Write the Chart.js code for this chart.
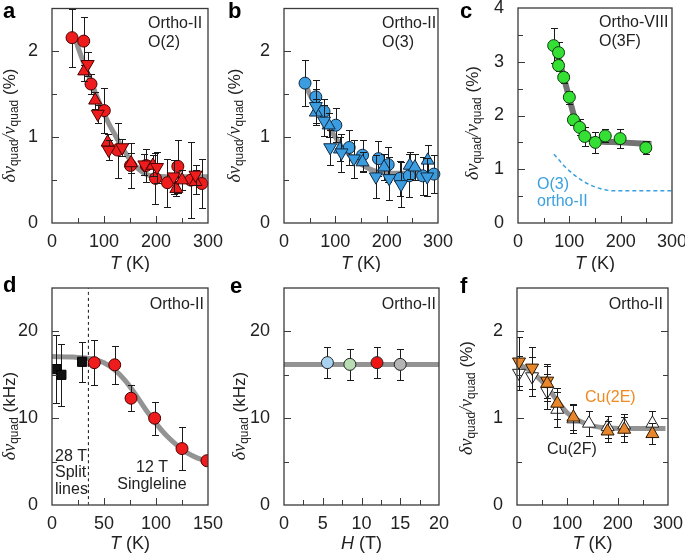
<!DOCTYPE html>
<html>
<head>
<meta charset="utf-8">
<script src="https://cdn.jsdelivr.net/npm/chart.js@4.4.0/dist/chart.umd.min.js"></script>
<style>
  body { margin: 0; background: #fff; width: 685px; height: 553px; position: relative; overflow: hidden; }
  canvas { position: absolute; }
</style>
</head>
<body>
<canvas id="pa" width="230" height="272" style="left:0px;top:0px"></canvas>
<canvas id="pb" width="234" height="272" style="left:226px;top:0px"></canvas>
<canvas id="pc" width="227" height="272" style="left:458px;top:0px"></canvas>
<canvas id="pd" width="230" height="278" style="left:0px;top:275px"></canvas>
<canvas id="pe" width="234" height="278" style="left:226px;top:275px"></canvas>
<canvas id="pf" width="227" height="278" style="left:458px;top:275px"></canvas>
<script>
// ---- a : Ortho-II O(2)
const aCircT = [38.5, 61, 75, 100.6, 126, 151, 181, 199, 222, 242, 267, 288];
const aCircV = [2.16, 2.12, 1.62, 1.31, 0.85, 0.67, 0.67, 0.52, 0.47, 0.66, 0.50, 0.46];
const aCircE = [0.34, 0.28, 0.12, 0.26, 0.32, 0.26, 0.19, 0.30, 0.28, 0.31, 0.44, 0.29];
const aUpT = [62, 83, 107, 152, 194, 239, 250, 276];
const aUpV = [1.77, 1.43, 0.94, 0.70, 0.67, 0.40, 0.50, 0.48];
const aUpE = [0.12, 0.10, 0.10, 0.12, 0.12, 0.09, 0.12, 0.14];
const aDnT = [68.6, 88, 109, 135, 177.6, 202, 234, 276];
const aDnV = [1.85, 1.27, 0.85, 0.88, 0.68, 0.65, 0.54, 0.56];
const aDnE = [0.14, 0.10, 0.12, 0.10, 0.12, 0.18, 0.20, 0.12];
const aFitT = [42, 50, 60, 70, 80, 90, 100, 110, 120, 130, 140, 150, 160, 170, 180, 190, 220, 300];
const aFitV = [2.2, 2.05, 1.88, 1.72, 1.57, 1.42, 1.28, 1.15, 1.04, 0.93, 0.83, 0.74, 0.67, 0.61, 0.57, 0.55, 0.54, 0.54];

// ---- b : Ortho-II O(3)
const bCircT = [41, 62, 78, 101, 127, 153, 184, 203, 226, 244, 270, 292];
const bCircV = [1.63, 1.47, 1.30, 1.14, 0.88, 0.79, 0.75, 0.68, 0.52, 0.55, 0.55, 0.57];
const bCircE = [0.27, 0.20, 0.14, 0.20, 0.20, 0.18, 0.20, 0.20, 0.20, 0.25, 0.22, 0.22];
const bUpT = [62, 87, 109, 153, 195, 245, 255, 280];
const bUpV = [1.29, 1.14, 0.86, 0.71, 0.65, 0.67, 0.65, 0.73];
const bUpE = [0.15, 0.14, 0.14, 0.12, 0.15, 0.16, 0.15, 0.18];
const bDnT = [62, 78, 90, 112, 136, 179, 205, 228, 279];
const bDnV = [1.36, 1.19, 0.88, 0.82, 0.75, 0.54, 0.52, 0.45, 0.54];
const bDnE = [0.20, 0.18, 0.20, 0.22, 0.22, 0.25, 0.25, 0.26, 0.22];
const bFitT = [42, 50, 60, 70, 80, 90, 100, 110, 120, 130, 140, 150, 160, 175, 190, 220, 300];
const bFitV = [1.62, 1.50, 1.39, 1.29, 1.19, 1.09, 1.00, 0.91, 0.84, 0.78, 0.73, 0.69, 0.65, 0.61, 0.59, 0.58, 0.58];

// ---- c : Ortho-VIII O(3F)
const cCircT = [69.5, 79, 79, 89, 100, 108, 120, 130, 150.6, 170, 199, 249];
const cCircV = [3.30, 3.17, 2.93, 2.71, 2.34, 1.92, 1.78, 1.61, 1.50, 1.62, 1.57, 1.40];
const cCircE = [0.32, 0.20, 0.10, 0.10, 0.12, 0.10, 0.15, 0.18, 0.20, 0.12, 0.18, 0.12];
const cFitT = [70, 80, 90, 100, 110, 120, 130, 140, 150, 200, 260];
const cFitV = [3.33, 3.02, 2.68, 2.32, 1.97, 1.74, 1.62, 1.56, 1.53, 1.50, 1.47];
const cRefT = [70, 80, 90, 100, 110, 120, 130, 140, 150, 160, 170, 180, 300];
const cRefV = [1.28, 1.17, 1.06, 0.97, 0.89, 0.82, 0.76, 0.71, 0.67, 0.64, 0.62, 0.60, 0.60];

// ---- d : Ortho-II, field 28 T / 12 T
const dSqT = [4.2, 9, 29];
const dSqV = [15.65, 15.0, 16.5];
const dSqE = [3.9, 3.6, 2.3];
const dCircT = [40.7, 60.3, 76, 98.7, 125, 149];
const dCircV = [16.4, 16.15, 12.3, 10.0, 6.5, 5.1];
const dCircE = [2.6, 2.2, 1.5, 1.9, 2.5, 0];
const dFitT = [0, 20, 40, 50, 60, 70, 80, 90, 100, 110, 120, 130, 140, 150];
const dFitV = [17.1, 17.05, 16.8, 16.4, 15.6, 14.4, 12.8, 11.0, 9.4, 8.0, 6.9, 6.0, 5.4, 5.0];
const dSplitT = [35, 35];
const dSplitV = [0, 25];

// ---- e : Ortho-II vs field
const eH = [5.6, 8.5, 12.0, 15.0];
const eV = [16.4, 16.2, 16.4, 16.2];
const eE = [1.75, 1.75, 1.75, 1.75];
const eColors = ['#a9d1f0', '#b8ddb2', '#ee1414', '#b5b5b5'];
const eFitH = [0, 20];
const eFitV = [16.2, 16.2];

// ---- f : Ortho-II Cu(2E) / Cu(2F)
const fOrDnT = [4, 30, 60];
const fOrDnV = [1.65, 1.58, 1.43];
const fOrDnE = [0.28, 0.24, 0.20];
const fOrUpT = [60, 80, 112, 180, 213, 269];
const fOrUpV = [1.40, 1.17, 1.01, 0.85, 0.87, 0.82];
const fOrUpE = [0.20, 0.18, 0.15, 0.12, 0.14, 0.12];
const fWhDnT = [4, 30, 60];
const fWhDnV = [1.52, 1.48, 1.31];
const fWhDnE = [0.20, 0.22, 0.20];
const fWhUpT = [80, 112, 143, 180, 213, 269];
const fWhUpV = [1.10, 0.99, 0.94, 0.90, 0.92, 0.94];
const fWhUpE = [0.20, 0.16, 0.14, 0.13, 0.13, 0.14];
const fFitT = [0, 20, 40, 60, 80, 100, 120, 140, 160, 180, 220, 295];
const fFitV = [1.62, 1.57, 1.48, 1.36, 1.20, 1.06, 0.98, 0.93, 0.90, 0.89, 0.88, 0.88];

const SANS = '"Liberation Sans", Arial, Helvetica, sans-serif';
const SERIF = '"Liberation Serif", "Times New Roman", serif';
const INK = '#222';

Chart.defaults.font.family = SANS;
Chart.defaults.color = INK;

function pts(t, v, e) {
  return t.map((x, i) => ({ x: x, y: v[i], e: e ? e[i] : 0 }));
}

function marks(t, v, e, style, fill, edge, r, rot, clip) {
  return {
    data: pts(t, v, e), showLine: false, pointStyle: style, pointRadius: r,
    pointRotation: rot || 0, backgroundColor: fill, borderColor: edge, borderWidth: 1,
    clip: clip === undefined ? 8 : clip, order: 1
  };
}

function curve(t, v, color, w, dash) {
  return {
    data: pts(t, v), showLine: true, pointRadius: 0, borderColor: color, borderWidth: w,
    borderDash: dash || [], cubicInterpolationMode: 'monotone', fill: false, order: 5
  };
}

// titles with subscripts / italics, drawn as canvas text
const yPct = [['δν', 'italic 18px ' + SERIF], ['quad', '12px ' + SANS, 5], ['/ν', 'italic 18px ' + SERIF],
  ['quad', '12px ' + SANS, 5], [' (%)', '17px ' + SANS]];
const yKHz = [['δν', 'italic 18px ' + SERIF], ['quad', '12px ' + SANS, 5], [' (kHz)', '17px ' + SANS]];
const xT = [['T', 'italic 18px ' + SANS], [' (K)', '18px ' + SANS]];
const xH = [['H', 'italic 18px ' + SANS], [' (T)', '18px ' + SANS]];

function rich(ctx, x, y, parts, rot) {
  ctx.save();
  ctx.translate(x, y);
  if (rot) ctx.rotate(-Math.PI / 2);
  let w = 0;
  parts.forEach(p => { ctx.font = p[1]; w += ctx.measureText(p[0]).width; });
  let cx = -w / 2;
  ctx.textAlign = 'left';
  ctx.textBaseline = 'middle';
  ctx.fillStyle = INK;
  parts.forEach(p => {
    ctx.font = p[1];
    ctx.fillText(p[0], cx, p[2] || 0);
    cx += ctx.measureText(p[0]).width;
  });
  ctx.restore();
}

const extras = {
  pa: { letter: ['a', 3, 18], ytitle: [yPct, -42, 117], xtitle: [xT, 41],
    notes: [['Ortho-II', 96, 15], ['O(2)', 96, 34]] },
  pb: { letter: ['b', 2, 18], ytitle: [yPct, -49, 117], xtitle: [xT, 41],
    notes: [['Ortho-II', 98, 15], ['O(3)', 98, 34]] },
  pc: { letter: ['c', 2, 18], ytitle: [yPct, -45, 115], xtitle: [xT, 41],
    notes: [['Ortho-VIII', 81, 15], ['O(3F)', 81, 34], ['O(3)', 19, 177, '#3aa0e0'], ['ortho-II', 19, 194, '#3aa0e0']] },
  pd: { letter: ['d', 3, 17], ytitle: [yKHz, -42, 128], xtitle: [xT, 39],
    notes: [['Ortho-II', -4, 17, INK, 'right'], ['28 T', 3, 169], ['Split', 3, 185], ['lines', 3, 202],
      ['12 T', 100, 180, INK, 'center'], ['Singleline', 100, 197, INK, 'center']] },
  pe: { letter: ['e', 4, 18], ytitle: [yKHz, -44, 128], xtitle: [xH, 39],
    notes: [['Ortho-II', -3, 17, INK, 'right']] },
  pf: { letter: ['f', 2, 18], ytitle: [yPct, -50, 110], xtitle: [xT, 39], rightTicks: true,
    notes: [['Ortho-II', -5, 17, INK, 'right'], ['Cu(2E)', 68, 110, '#ef8a22'], ['Cu(2F)', 30, 162]] }
};

Chart.register({
  id: 'fig',
  beforeDatasetDraw(chart, args) {
    const ds = chart.data.datasets[args.index];
    if (ds.showLine) return;
    const ctx = chart.ctx, a = chart.chartArea, xs = chart.scales.x, ys = chart.scales.y;
    ctx.save();
    ctx.beginPath();
    ctx.rect(a.left, a.top, a.right - a.left, a.bottom - a.top);
    ctx.clip();
    ctx.strokeStyle = '#1a1a1a';
    ctx.lineWidth = 1;
    ds.data.forEach(p => {
      if (!p.e) return;
      const px = Math.round(xs.getPixelForValue(p.x)) + 0.5;
      const y1 = Math.round(ys.getPixelForValue(p.y - p.e)) + 0.5;
      const y2 = Math.round(ys.getPixelForValue(p.y + p.e)) + 0.5;
      ctx.beginPath();
      ctx.moveTo(px, y1); ctx.lineTo(px, y2);
      ctx.moveTo(px - 3.5, y1); ctx.lineTo(px + 3.5, y1);
      ctx.moveTo(px - 3.5, y2); ctx.lineTo(px + 3.5, y2);
      ctx.stroke();
    });
    ctx.restore();
  },
  afterDraw(chart) {
    const ex = extras[chart.canvas.id];
    const ctx = chart.ctx, a = chart.chartArea, xs = chart.scales.x, ys = chart.scales.y;
    ctx.save();
    // frame
    ctx.strokeStyle = '#3a3a3a';
    ctx.lineWidth = 1.3;
    ctx.strokeRect(a.left, a.top, a.right - a.left, a.bottom - a.top);
    // inward ticks, minor ones half way
    ctx.lineWidth = 1;
    const xst = xs.options.ticks.stepSize, yst = ys.options.ticks.stepSize;
    ctx.beginPath();
    for (let v = xs.min + xst / 2; v < xs.max - 1e-9; v += xst / 2) {
      const major = Math.abs(v / xst - Math.round(v / xst)) < 1e-6;
      const px = Math.round(xs.getPixelForValue(v)) + 0.5;
      ctx.moveTo(px, a.bottom); ctx.lineTo(px, a.bottom - (major ? 7 : 5));
    }
    for (let v = ys.min + yst / 2; v < ys.max - 1e-9; v += yst / 2) {
      const major = Math.abs(v / yst - Math.round(v / yst)) < 1e-6;
      const py = Math.round(ys.getPixelForValue(v)) + 0.5;
      const L = major ? 7 : 5;
      ctx.moveTo(a.left, py); ctx.lineTo(a.left + L, py);
      if (ex.rightTicks) { ctx.moveTo(a.right, py); ctx.lineTo(a.right - L, py); }
    }
    ctx.stroke();
    // panel letter
    ctx.fillStyle = '#000';
    ctx.font = 'bold 22px ' + SANS;
    ctx.textAlign = 'left';
    ctx.textBaseline = 'alphabetic';
    ctx.fillText(ex.letter[0], ex.letter[1], ex.letter[2]);
    // notes
    ctx.font = '16px ' + SANS;
    ctx.textBaseline = 'middle';
    ex.notes.forEach(n => {
      const al = n[4] || 'left';
      ctx.textAlign = al;
      ctx.fillStyle = n[3] || INK;
      const x = al === 'right' ? a.right + n[1] : a.left + n[1];
      ctx.fillText(n[0], x, a.top + n[2]);
    });
    ctx.restore();
    rich(ctx, a.left + ex.ytitle[1], a.top + ex.ytitle[2], ex.ytitle[0], true);
    rich(ctx, (a.left + a.right) / 2, a.bottom + ex.xtitle[1], ex.xtitle[0], false);
  }
});

function options(xmax, xstep, ymax, ystep, yw, xh, pad) {
  return {
    responsive: false, animation: false, devicePixelRatio: 1,
    layout: { padding: pad },
    plugins: { legend: { display: false }, tooltip: { enabled: false } },
    scales: {
      x: {
        type: 'linear', min: 0, max: xmax,
        grid: { display: false }, border: { display: false },
        ticks: { stepSize: xstep, includeBounds: false, autoSkip: false, maxRotation: 0, padding: 0, font: { size: 18 } },
        afterFit: s => { s.height = xh; s.paddingLeft = 0; s.paddingRight = 0; }
      },
      y: {
        type: 'linear', min: 0, max: ymax,
        grid: { display: false }, border: { display: false },
        ticks: { stepSize: ystep, includeBounds: false, autoSkip: false, padding: 6, font: { size: 18 } },
        afterFit: s => { s.width = yw; s.paddingTop = 0; s.paddingBottom = 0; }
      }
    }
  };
}

const RED = '#ee1c1c', RED_E = '#4a0000';
const BLUE = '#3b9de0', BLUE_E = '#0f2a44';
const GREEN = '#33e033', GREEN_E = '#0d3a0d';
const ORANGE = '#e8862c', ORANGE_E = '#2a1600';
const FIT = 'rgba(128,128,128,0.85)';

new Chart(document.getElementById('pa'), {
  type: 'scatter',
  data: { datasets: [
    marks(aDnT, aDnV, aDnE, 'triangle', RED, RED_E, 7.5, 180),
    marks(aUpT, aUpV, aUpE, 'triangle', RED, RED_E, 7.5),
    marks(aCircT, aCircV, aCircE, 'circle', RED, RED_E, 6),
    curve(aFitT, aFitV, FIT, 5)
  ] },
  options: options(300, 100, 2.5, 1, 52, 49, { top: 8, right: 22, bottom: 0, left: 0 })
});

new Chart(document.getElementById('pb'), {
  type: 'scatter',
  data: { datasets: [
    marks(bDnT, bDnV, bDnE, 'triangle', BLUE, BLUE_E, 7.5, 180),
    marks(bUpT, bUpV, bUpE, 'triangle', BLUE, BLUE_E, 7.5),
    marks(bCircT, bCircV, bCircE, 'circle', BLUE, BLUE_E, 6),
    curve(bFitT, bFitV, FIT, 5)
  ] },
  options: options(300, 100, 2.5, 1, 58, 49, { top: 8, right: 22, bottom: 0, left: 0 })
});

new Chart(document.getElementById('pc'), {
  type: 'scatter',
  data: { datasets: [
    marks(cCircT, cCircV, cCircE, 'circle', GREEN, GREEN_E, 6),
    curve(cFitT, cFitV, 'rgba(100,100,100,0.9)', 6),
    curve(cRefT, cRefV, '#3aa0e0', 1.5, [4, 3])
  ] },
  options: options(300, 100, 4, 1, 60, 49, { top: 8, right: 13, bottom: 0, left: 0 })
});

new Chart(document.getElementById('pd'), {
  type: 'scatter',
  data: { datasets: [
    marks(dSqT, dSqV, dSqE, 'rect', '#111', '#000', 6.5, 0, 0),
    marks(dCircT, dCircV, dCircE, 'circle', RED, RED_E, 6, 0, 0),
    curve(dFitT, dFitV, FIT, 5),
    curve(dSplitT, dSplitV, '#111', 1, [3, 3])
  ] },
  options: options(150, 50, 25, 10, 52, 48, { top: 13, right: 22, bottom: 0, left: 0 })
});

new Chart(document.getElementById('pe'), {
  type: 'scatter',
  data: { datasets: [
    marks(eH, eV, eE, 'circle', eColors, '#222', 6),
    curve(eFitH, eFitV, FIT, 5)
  ] },
  options: options(20, 5, 25, 10, 58, 48, { top: 13, right: 21, bottom: 0, left: 0 })
});

new Chart(document.getElementById('pf'), {
  type: 'scatter',
  data: { datasets: [
    marks(fOrUpT, fOrUpV, fOrUpE, 'triangle', ORANGE, ORANGE_E, 7.5),
    marks(fOrDnT, fOrDnV, fOrDnE, 'triangle', ORANGE, ORANGE_E, 7.5, 180),
    marks(fWhUpT, fWhUpV, fWhUpE, 'triangle', '#fff', '#222', 7.5),
    marks(fWhDnT, fWhDnV, fWhDnE, 'triangle', '#fff', '#222', 7.5, 180),
    curve(fFitT, fFitV, FIT, 5)
  ] },
  options: options(300, 100, 2.5, 1, 59, 48, { top: 13, right: 17, bottom: 0, left: 0 })
});
</script>
</body>
</html>
